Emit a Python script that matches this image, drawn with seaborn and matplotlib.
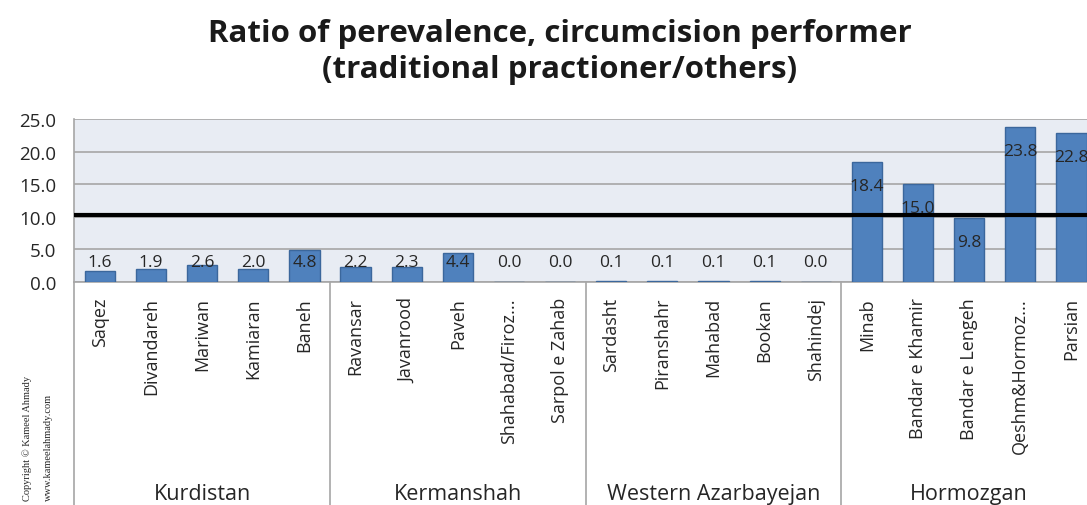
import matplotlib
matplotlib.use("Agg")
import matplotlib.pyplot as plt
import numpy as np
import pandas as pd
import seaborn as sns

# chart data
districts = ["Saqez", "Divandareh", "Mariwan", "Kamiaran", "Baneh",
             "Ravansar", "Javanrood", "Paveh", "Shahabad/Firoz...", "Sarpol e Zahab",
             "Sardasht", "Piranshahr", "Mahabad", "Bookan", "Shahindej",
             "Minab", "Bandar e Khamir", "Bandar e Lengeh", "Qeshm&Hormoz...", "Parsian"]
ratios = [1.6, 1.9, 2.6, 2.0, 4.8,
          2.2, 2.3, 4.4, 0.0, 0.0,
          0.1, 0.1, 0.1, 0.1, 0.0,
          18.4, 15.0, 9.8, 23.8, 22.8]
provinces = ["Kurdistan", "Kermanshah", "Western Azarbayejan", "Hormozgan"]
province_sizes = [5, 5, 5, 5]
reference_line = 10.2

bar_color = "#4F81BD"
edge_color = "#3B679C"
plot_bg = "#E8ECF3"
grid_color = "#A6A6A6"
text_color = "#262626"

sns.set_theme(style="white")
plt.rcParams['font.family'] = ['Open Sans', 'DejaVu Sans']

df = pd.DataFrame({"district": districts, "ratio": ratios})

fig = plt.figure(figsize=(10.87, 5.06), dpi=100)
fig.set_facecolor("white")
ax = fig.add_axes([0.0684, 0.4413, 0.9408, 0.3215])
ax.set_facecolor(plot_bg)

sns.barplot(data=df, x="district", y="ratio", ax=ax, color=bar_color,
            edgecolor=edge_color, linewidth=1, width=0.59, saturation=1, zorder=3)

ax.set_xlim(-0.5, len(districts) - 0.5)
ax.set_ylim(0, 25)
ax.set_yticks(np.arange(0, 26, 5))
ax.set_yticklabels([f"{v:.1f}" for v in np.arange(0, 26, 5)], fontsize=13.5, color=text_color)
ax.tick_params(axis="y", length=0, pad=13)
ax.yaxis.grid(True, color=grid_color, linewidth=1.2, zorder=0)
ax.set_axisbelow(True)

ax.set_xticks(range(len(districts)))
ax.set_xticklabels(districts, rotation=90, fontsize=13, color=text_color, va="top")
ax.tick_params(axis="x", length=0, pad=11)
ax.set_xlabel("")
ax.set_ylabel("")

for side in ["top", "right"]:
    ax.spines[side].set_visible(False)
ax.spines["left"].set_color(grid_color)
ax.spines["bottom"].set_color(grid_color)
ax.spines["left"].set_linewidth(1.2)
ax.spines["bottom"].set_linewidth(1.2)

# threshold line
ax.axhline(reference_line, color="black", linewidth=3, zorder=4)

# value labels
for i, v in enumerate(ratios):
    y = v - 3.7 if v > 6.7 else 3.0
    ax.text(i, y, f"{v:.1f}", ha="center", va="center", fontsize=12.5,
            color=text_color, zorder=5)

# province groups under the axis
trans = ax.get_xaxis_transform()
start = 0
ax.plot([-0.5, -0.5], [0, -1.4], transform=trans, color=grid_color, lw=1.2, clip_on=False)
for name, n in zip(provinces, province_sizes):
    end = start + n
    ax.text((start + end - 1) / 2, -1.3, name, transform=trans, ha="center",
            va="center", fontsize=15.5, color=text_color)
    ax.plot([end - 0.5, end - 0.5], [0, -1.4], transform=trans, color=grid_color,
            lw=1.2, clip_on=False)
    start = end

fig.text(0.515, 0.897, "Ratio of perevalence, circumcision performer\n(traditional practioner/others)",
         ha="center", va="center", fontsize=22.5, fontweight="bold", color="#1a1a1a",
         linespacing=1.25)

fig.text(0.025, 0.01, "Copyright © Kameel Ahmady", rotation=90, fontsize=7.5,
         family="Liberation Serif", color=text_color, ha="center", va="bottom")
fig.text(0.045, 0.01, "www.kameelahmady.com", rotation=90, fontsize=7.5,
         family="Liberation Serif", color=text_color, ha="center", va="bottom")

fig.savefig("out.png", dpi=100)
